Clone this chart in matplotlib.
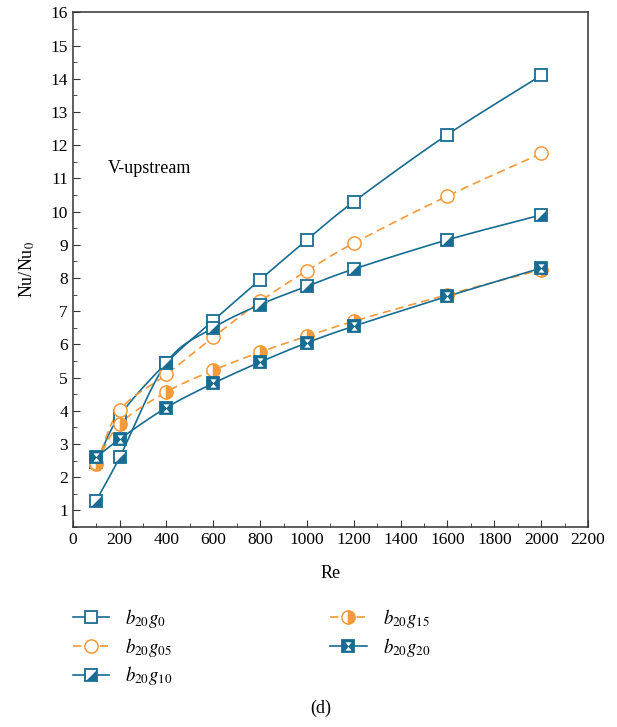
import numpy as np
import matplotlib
matplotlib.use("Agg")
import matplotlib.pyplot as plt
from matplotlib.path import Path
from matplotlib.legend_handler import HandlerTuple
from matplotlib.ticker import MultipleLocator

plt.rcParams['font.family'] = ['Liberation Serif', 'DejaVu Serif']
plt.rcParams['mathtext.fontset'] = 'stix'

re_vals = [100, 200, 400, 600, 800, 1000, 1200, 1600, 2000]
b20g0 = [2.45, 3.85, 5.45, 6.72, 7.95, 9.15, 10.3, 12.32, 14.1]
b20g05 = [2.4, 4.02, 5.1, 6.22, 7.3, 8.22, 9.05, 10.47, 11.75]
b20g10 = [1.3, 2.6, 5.45, 6.5, 7.2, 7.75, 8.27, 9.15, 9.9]
b20g15 = [2.42, 3.6, 4.57, 5.22, 5.77, 6.25, 6.7, 7.5, 8.25]
b20g20 = [2.6, 3.15, 4.1, 4.83, 5.47, 6.05, 6.55, 7.45, 8.3]

BLUE = '#176c92'
ORANGE = '#f39a3a'
DASH = (0, (5, 3))


def smooth(x, y, n=20):
    # catmull-rom through the points, just for the drawn line
    x = np.asarray(x, float)
    y = np.asarray(y, float)
    px = np.concatenate([[2 * x[0] - x[1]], x, [2 * x[-1] - x[-2]]])
    py = np.concatenate([[2 * y[0] - y[1]], y, [2 * y[-1] - y[-2]]])
    xs, ys = [], []
    t = np.linspace(0, 1, n, endpoint=False)
    for i in range(1, len(px) - 2):
        for p, out in ((px, xs), (py, ys)):
            p0, p1, p2, p3 = p[i - 1], p[i], p[i + 1], p[i + 2]
            out.extend(0.5 * (2 * p1 + (-p0 + p2) * t
                              + (2 * p0 - 5 * p1 + 4 * p2 - p3) * t ** 2
                              + (-p0 + 3 * p1 - 3 * p2 + p3) * t ** 3))
    xs.append(x[-1])
    ys.append(y[-1])
    return xs, ys


tri = Path([(1, -1), (1, 1), (-1, -1), (1, -1)],
           [Path.MOVETO, Path.LINETO, Path.LINETO, Path.CLOSEPOLY])
hour = Path([(-0.55, 0.75), (0.55, 0.75), (0, 0.05), (-0.55, 0.75),
             (-0.55, -0.75), (0.55, -0.75), (0, -0.05), (-0.55, -0.75)],
            [Path.MOVETO, Path.LINETO, Path.LINETO, Path.CLOSEPOLY,
             Path.MOVETO, Path.LINETO, Path.LINETO, Path.CLOSEPOLY])

fig = plt.figure(figsize=(6.17, 7.27), dpi=100)
ax = fig.add_axes([0.118, 0.275, 0.835, 0.708])

ms = 8.5
series = [
    (b20g0, BLUE, '-', r'$b_{20}g_{0}$'),
    (b20g05, ORANGE, DASH, r'$b_{20}g_{05}$'),
    (b20g10, BLUE, '-', r'$b_{20}g_{10}$'),
    (b20g15, ORANGE, DASH, r'$b_{20}g_{15}$'),
    (b20g20, BLUE, '-', r'$b_{20}g_{20}$'),
]
for vals, c, ls, _ in series:
    sx, sy = smooth(re_vals, vals)
    ax.plot(sx, sy, color=c, ls=ls, lw=1.2)

# b20g0 open square
h0 = ax.plot(re_vals, b20g0, ls='none', marker='s', ms=ms, mfc='white', mec=BLUE, mew=1.3)[0]
# b20g05 open circle
h1 = ax.plot(re_vals, b20g05, ls='none', marker='o', ms=ms + 1, mfc='white', mec=ORANGE, mew=1.1)[0]
# b20g10 half square
h2a = ax.plot(re_vals, b20g10, ls='none', marker='s', ms=ms, mfc='white', mec=BLUE, mew=1.3)[0]
h2b = ax.plot(re_vals, b20g10, ls='none', marker=tri, ms=ms - 1, mfc=BLUE, mec=BLUE, mew=0)[0]
# b20g15 half circle
h3 = ax.plot(re_vals, b20g15, ls='none', marker='o', ms=ms + 1, mfc=ORANGE, mec=ORANGE,
             mew=1.1, fillstyle='right', markerfacecoloralt='white')[0]
# b20g20 filled square with hourglass
h4a = ax.plot(re_vals, b20g20, ls='none', marker='s', ms=ms, mfc=BLUE, mec=BLUE, mew=1.3)[0]
h4b = ax.plot(re_vals, b20g20, ls='none', marker=hour, ms=ms - 2.5, mfc='white', mec='white', mew=0)[0]


def leg_line(c, ls):
    return plt.Line2D([], [], color=c, ls=ls, lw=1.2)


hl = [
    (leg_line(BLUE, '-'), h0),
    (leg_line(ORANGE, DASH), h1),
    (leg_line(BLUE, '-'), h2a, h2b),
    (leg_line(ORANGE, DASH), h3),
    (leg_line(BLUE, '-'), h4a, h4b),
]
labels = [s[3] for s in series]

ax.set_xlim(0, 2200)
ax.set_ylim(0.5, 16)
ax.xaxis.set_major_locator(MultipleLocator(200))
ax.xaxis.set_minor_locator(MultipleLocator(100))
ax.yaxis.set_minor_locator(MultipleLocator(0.5))
ax.set_yticks(range(1, 17))
ax.tick_params(which='both', direction='in', labelsize=12.5, color='#333333')
ax.tick_params(which='major', length=5)
ax.tick_params(which='minor', length=3)
for sp in ax.spines.values():
    sp.set_color('#333333')
    sp.set_linewidth(1.1)

ax.set_xlabel('Re', fontsize=13, labelpad=12)
ax.set_ylabel(r'Nu/Nu$_0$', fontsize=13, labelpad=10)
ax.text(150, 11.3, 'V-upstream', fontsize=13, va='center', ha='left')

kw = dict(frameon=False, handlelength=1.95, handletextpad=0.85, labelspacing=0.3,
          fontsize=13.5, handler_map={tuple: HandlerTuple(ndivide=1)}, loc='upper left',
          borderpad=0, borderaxespad=0)
fig.legend(hl[:3], labels[:3], bbox_to_anchor=(0.118, 0.165), **kw)
fig.legend(hl[3:], labels[3:], bbox_to_anchor=(0.535, 0.165), **kw)

fig.text(0.52, 0.025, '(d)', fontsize=13, ha='center', va='center')

fig.savefig('out.png', dpi=100)
